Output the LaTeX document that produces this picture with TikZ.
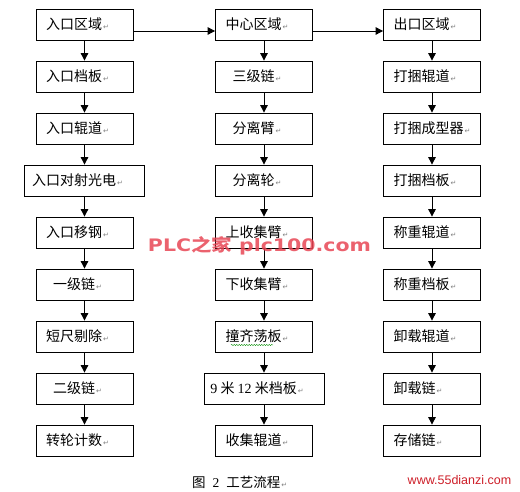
\documentclass[tikz,border=0pt]{standalone}
\usepackage{fontspec}
\setmainfont{Liberation Serif}
\newfontfamily\cjk{Noto Sans CJK SC}
\newfontfamily\symf{DejaVu Sans}
\newfontfamily\wmf{DejaVu Sans}
\newfontfamily\sitef{Liberation Sans}
\usetikzlibrary{arrows.meta,decorations.pathmorphing}
\newcommand\retmk{\hspace{1pt}{\symf\fontsize{7}{8}\selectfont\color{gray}↵}}
\newcommand\bx[1]{#1\retmk\hspace*{14pt}}
\definecolor{wmred}{RGB}{232,70,85}
\definecolor{sitered}{RGB}{205,30,40}
\begin{document}
\begin{tikzpicture}[x=1pt,y=-1pt,
  box/.style={draw,line width=0.8pt,minimum width=97pt,minimum height=31pt,inner sep=0pt,font=\fontsize{14}{16}\selectfont\cjk},
  wide/.style={box,minimum width=120pt},
  lbox/.style={box,inner xsep=10pt,text width=77pt,align=left},
  arr/.style={-{Triangle[length=7.5pt,width=7.5pt]},line width=0.9pt}]
\useasboundingbox (0,0) rectangle (520,492);
% column 1
\node[box]  (a1) at (84.5,24.5)  {\bx{入口区域}};
\node[box]  (a2) at (84.5,76.5)  {\bx{入口档板}};
\node[box]  (a3) at (84.5,128.5) {\bx{入口辊道}};
\node[wide] (a4) at (84.5,180.5) {\bx{入口对射光电}};
\node[box]  (a5) at (84.5,232.5) {\bx{入口移钢}};
\node[box]  (a6) at (84.5,284.5) {\bx{一级链}};
\node[box]  (a7) at (84.5,336.5) {\bx{短尺剔除}};
\node[box]  (a8) at (84.5,388.5) {\bx{二级链}};
\node[box]  (a9) at (84.5,440.5) {\bx{转轮计数}};
% column 2
\node[box]  (b1) at (264,24.5)  {\bx{中心区域}};
\node[box]  (b2) at (264,76.5)  {\bx{三级链}};
\node[box]  (b3) at (264,128.5) {\bx{分离臂}};
\node[box]  (b4) at (264,180.5) {\bx{分离轮}};
\node[box]  (b5) at (264,232.5) {\bx{上收集臂}};
\node[box]  (b6) at (264,284.5) {\bx{下收集臂}};
\node[box]  (b7) at (264,336.5) {\bx{撞齐荡板}};
\node[wide] (b8) at (264,388.5) {\bx{{\rmfamily 9} 米 {\rmfamily 12} 米档板}};
\node[box]  (b9) at (264,440.5) {\bx{收集辊道}};
% column 3
\node[lbox] (c1) at (432,24.5)  {出口区域\retmk};
\node[lbox] (c2) at (432,76.5)  {打捆辊道\retmk};
\node[lbox] (c3) at (432,128.5) {打捆成型器\retmk};
\node[lbox] (c4) at (432,180.5) {打捆档板\retmk};
\node[lbox] (c5) at (432,232.5) {称重辊道\retmk};
\node[lbox] (c6) at (432,284.5) {称重档板\retmk};
\node[lbox] (c7) at (432,336.5) {卸载辊道\retmk};
\node[lbox] (c8) at (432,388.5) {卸载链\retmk};
\node[lbox] (c9) at (432,440.5) {存储链\retmk};
% vertical arrows
\foreach \c in {a,b,c}{
  \foreach \i [count=\j from 2] in {1,...,8}{
    \draw[arr] (\c\i.south) -- (\c\j.north);
  }
}
% horizontal arrows
\draw[arr] ([yshift=-6.5pt]a1.east) -- ([yshift=-6.5pt]b1.west);
\draw[arr] ([yshift=-6.5pt]b1.east) -- ([yshift=-6.5pt]c1.west);
% spell-check underline
\coordinate (u1) at (231,345);
\coordinate (u2) at (273,345);
\draw[green!55!black,line width=0.4pt,decorate,decoration={snake,amplitude=0.6pt,segment length=2.5pt}] (u1) -- (u2);
% caption
\node[font=\fontsize{13.5}{15}\selectfont\cjk,anchor=west,inner sep=0pt] (cap) at (192,482) {图\hspace{7pt}{\rmfamily 2}\hspace{7pt}工艺流程\retmk};
% watermarks
\node[text=wmred,opacity=0.85,inner sep=0pt] (wm) at (259.5,246)
  {\resizebox{223pt}{15pt}{\fontsize{18}{20}\selectfont\bfseries\wmf PLC{\cjk\bfseries 之家} plc100.com}};
\node[font=\fontsize{12.5}{14}\selectfont\sitef,text=sitered,inner sep=0pt] (site) at (459.5,480) {www.55dianzi.com};
\end{tikzpicture}
\end{document}
